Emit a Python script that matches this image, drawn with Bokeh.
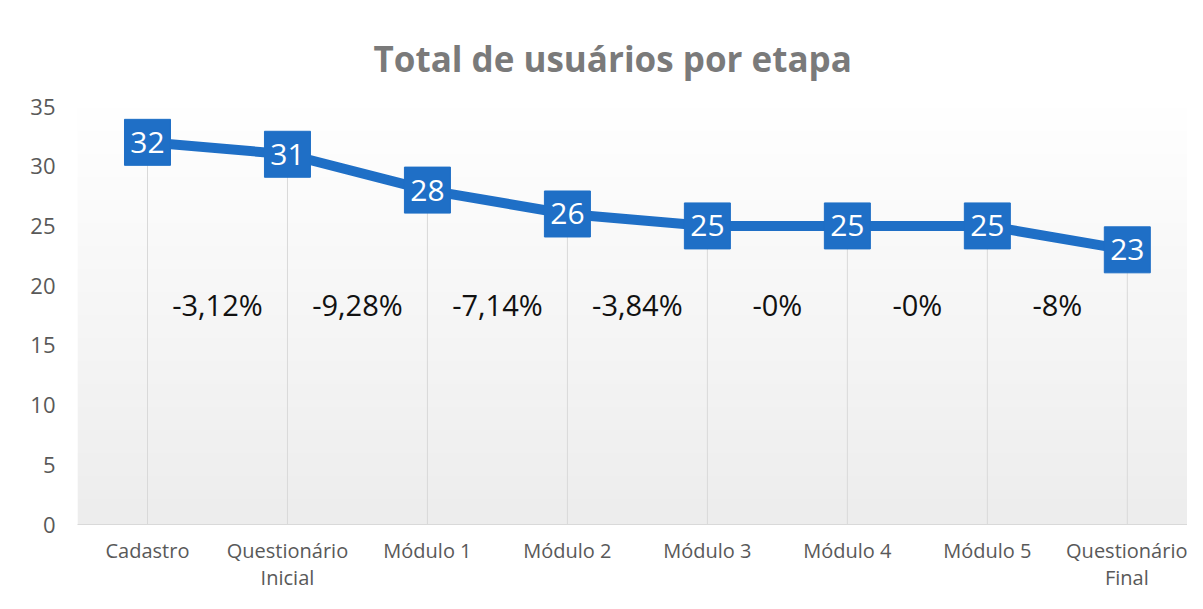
import numpy as np
from bokeh.plotting import figure
from bokeh.models import Range1d, FixedTicker, Title, ColumnDataSource
from bokeh.core.properties import value
from bokeh.embed import file_html
from bokeh.resources import INLINE

# ---- data ----
categories = ["Cadastro", "Questionário\nInicial", "Módulo 1", "Módulo 2",
              "Módulo 3", "Módulo 4", "Módulo 5", "Questionário\nFinal"]
users = [32, 31, 28, 26, 25, 25, 25, 23]
changes = ["-3,12%", "-9,28%", "-7,14%", "-3,84%", "-0%", "-0%", "-8%"]
change_level = 18.4
y_ticks = [0, 5, 10, 15, 20, 25, 30, 35]
title_text = "Total de usuários por etapa"

BLUE = "#1F6FC6"
GRAY_TXT = "#595959"
FONT = "Open Sans"

xs = list(range(len(categories)))
mids = [i + 0.5 for i in range(len(changes))]

p = figure(width=1187, height=593, output_backend="svg", toolbar_location=None,
           x_range=Range1d(-0.5, 7.43), y_range=Range1d(0, 35),
           min_border_left=77, min_border_right=0, min_border_top=106,
           min_border_bottom=0)
p.outline_line_color = None
p.background_fill_color = "white"
p.border_fill_color = "white"
p.xgrid.visible = False
p.ygrid.visible = False

# title
p.add_layout(Title(text=title_text, align="left", offset=296, standoff=49,
                   text_font=FONT, text_font_style="bold", text_font_size="35px",
                   text_color="#7a7a7a"), "above")

# gradient background of plot area
n = 200
t = np.linspace(0, 1, n)
g = (237 + (255 - 237) * t).astype(np.uint32)
img = np.empty((n, 1), dtype=np.uint32)
img[:, 0] = (255 << 24) | (g << 16) | (g << 8) | g
p.image_rgba(image=[img], x=-0.5, y=0, dw=8, dh=35)

# drop lines
p.segment(x0=xs, y0=[0] * len(xs), x1=xs, y1=users, line_color="#d9d9d9", line_width=1)

# main line
p.line(xs, users, line_color=BLUE, line_width=10, line_join="round")

# label boxes
src = ColumnDataSource(dict(x=xs, y=users, t=[str(v) for v in users]))
p.rect("x", "y", width=46, height=46, width_units="screen", height_units="screen",
       fill_color=BLUE, line_color=BLUE, source=src)
p.text("x", "y", text="t", source=src, text_color="white", text_font=value(FONT),
       text_font_size="30px", text_align="center", text_baseline="middle")

# percentage changes
p.text(mids, [change_level] * len(mids), text=changes, text_color="#111111",
       text_font=value(FONT), text_font_size="29px", text_align="center",
       text_baseline="middle")

# axes
p.xaxis.ticker = FixedTicker(ticks=xs)
p.xaxis.major_label_overrides = {i: c for i, c in enumerate(categories)}
p.xaxis.major_label_text_font = FONT
p.xaxis.major_label_text_font_size = "20px"
p.xaxis.major_label_text_line_height = 1.0
p.xaxis.major_label_text_color = GRAY_TXT
p.xaxis.axis_line_color = "#d9d9d9"
p.xaxis.axis_line_width = 1
p.xaxis.major_tick_line_color = None
p.xaxis.minor_tick_line_color = None
p.xaxis.major_tick_out = 0
p.xaxis.major_label_standoff = 12

p.yaxis.ticker = FixedTicker(ticks=y_ticks)
p.yaxis.major_label_text_font = FONT
p.yaxis.major_label_text_font_size = "22px"
p.yaxis.major_label_text_color = GRAY_TXT
p.yaxis.axis_line_color = None
p.yaxis.major_tick_line_color = None
p.yaxis.minor_tick_line_color = None
p.yaxis.major_tick_out = 0
p.yaxis.major_label_standoff = 22

open("out.html", "w").write(file_html(p, INLINE))
